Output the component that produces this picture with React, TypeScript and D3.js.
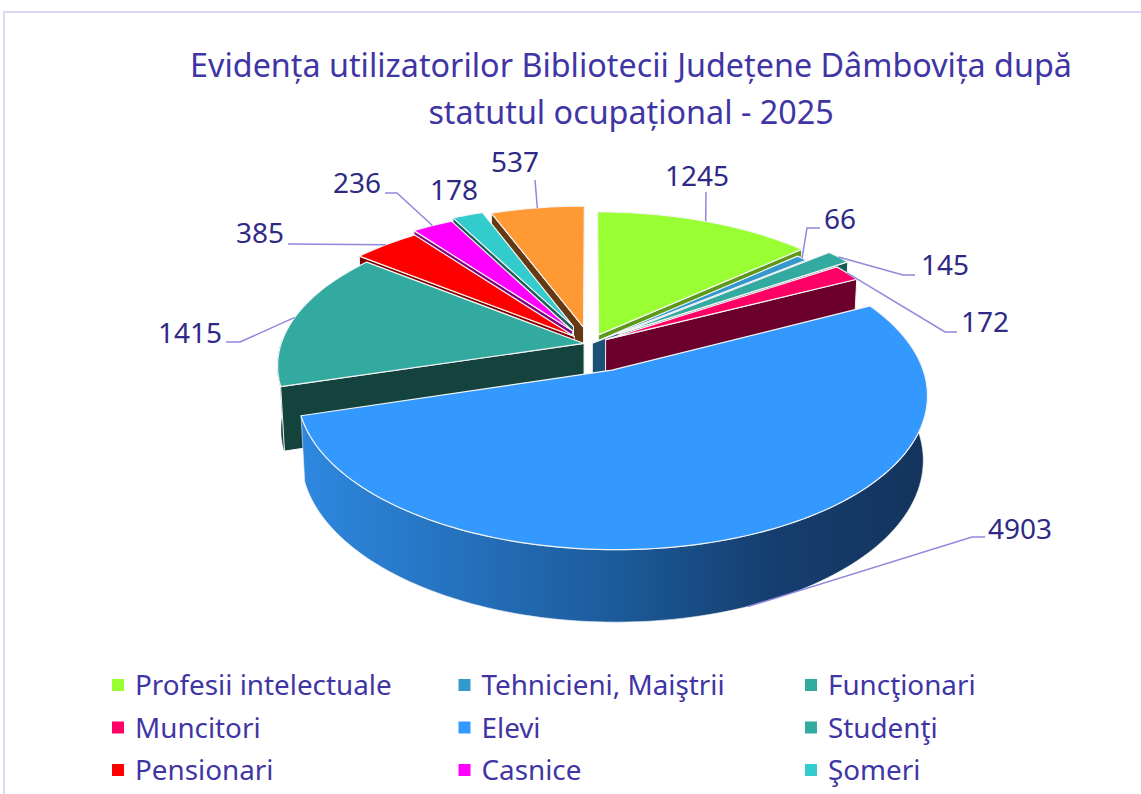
import React from "react";
import * as d3 from "d3";

const titleLines = ["Evidența utilizatorilor Bibliotecii Județene Dâmbovița după", "statutul ocupațional - 2025"];
const legendNames = ["Profesii intelectuale", "Tehnicieni, Maiştrii", "Funcţionari", "Muncitori", "Elevi", "Studenţi", "Pensionari", "Casnice", "Şomeri"];
const values = [1245, 66, 145, 172, 4903, 1415, 385, 236, 178, 537];
const topColors = ["#99ff33", "#3399cc", "#33aaa0", "#ff0066", "#3399ff", "#33aaa0", "#ff0000", "#ff00ff", "#33cccc", "#ff9933"];
const wallColors = ["#5c9918", "#1a5276", "#165a55", "#6b002c", "#1c5f9f", "#14433e", "#800000", "#800080", "#1a5f5c", "#653a12"];
const explode = [0.07, 0.01, 0.12, 0.06, 0.19, 0.02, 0.075, 0.11, 0.135, 0.12];
const paintOrder = [9, 8, 7, 6, 0, 1, 2, 3, 5, 4];

// layout: label centre and leader path from the slice's mid-arc anchor
const labelPos: [number, number][] = [[697, 176], [840, 219], [945, 265], [985, 322], [1020, 529], [190, 333], [260, 233], [357, 183], [454, 190], [515, 162]];
const leaderElbows: [number, number][][] = [
  [[706, 192]],
  [[807, 228], [820, 228]],
  [[903, 275], [915, 275]],
  [[945, 332], [957, 332]],
  [[972, 537], [985, 537]],
  [[240, 342], [226, 342]],
  [[288, 244]],
  [[397, 193], [385, 193]],
  [],
  [[535, 180]],
];

const cx = 590, cy = 344, R = 303, Ry = 144, K = 0.15, M = 0.012, D = 63;
const project = (u: number, v: number, z: number): [number, number] => {
  const den = 1 + K * v + M * z;
  return [cx + (R * u) / den, cy + (-Ry * v + D * z) / den];
};

const pieGen = d3.pie<number>().sort(null).value((d) => d);
const arcs = pieGen(values);
const line = d3.line();

export default function App() {
  const slices = arcs.map((a, i) => {
    const mid = (a.startAngle + a.endAngle) / 2;
    const ou = Math.sin(mid) * explode[i], ov = Math.cos(mid) * explode[i];
    const n = Math.max(4, Math.ceil(((a.endAngle - a.startAngle) * 180) / Math.PI / 1.5));
    const angs = d3.range(n + 1).map((j) => a.startAngle + ((a.endAngle - a.startAngle) * j) / n);
    const P = (t: number, r: number, z: number) => project(ou + r * Math.sin(t), ov + r * Math.cos(t), z);
    const top = [P(0, 0, 0), ...angs.map((t) => P(t, 1, 0))];
    // only the radial wall that faces the viewer is drawn
    const faceAngle = i === 4 ? null : mid < Math.PI ? a.endAngle : a.startAngle;
    const wall = faceAngle === null ? null : [P(0, 0, 0), P(faceAngle, 1, 0), P(faceAngle, 1, 1), P(0, 0, 1)];
    const visible = angs.filter((t) => Math.cos(t) < 0.05);
    const outer = visible.length > 1 ? [...visible.map((t) => P(t, 1, 0)), ...visible.slice().reverse().map((t) => P(t, 1, 1))] : null;
    const anchor = P(mid, 1, i === 4 ? 1 : 0);
    return { i, top, wall, outer, anchor };
  });

  return (
    <svg width={1141} height={794} style={{ position: "absolute", left: 0, top: 0, background: "#fff" }} fontFamily="'Noto Sans', sans-serif">
      <defs>
        <linearGradient id="eleviWall" gradientUnits="userSpaceOnUse" x1={300} x2={920} y1={0} y2={0}>
          <stop offset="0" stopColor="#2e88e0" />
          <stop offset="0.5" stopColor="#1c5c9c" />
          <stop offset="0.75" stopColor="#153f70" />
          <stop offset="1" stopColor="#14345e" />
        </linearGradient>
      </defs>
      <path d="M4,794V12H1141" fill="none" stroke="#d0ccf0" strokeWidth={1.5} />
      {titleLines.map((t, i) => (
        <text key={t} x={631} y={77 + i * 47} textAnchor="middle" fontSize={32.3} fill="#3f35a5">{t}</text>
      ))}
      {paintOrder.map((idx) => {
        const s = slices[idx];
        const fill = idx === 4 ? "url(#eleviWall)" : wallColors[idx];
        const edge = "#f4f4f4";
        return (
          <g key={idx} strokeLinejoin="round">
            {s.outer && <path d={line(s.outer) + "Z"} fill={fill} stroke={idx === 4 ? edge : fill} strokeWidth={0.6} />}
            {s.wall && <path d={line(s.wall) + "Z"} fill={wallColors[idx]} stroke={edge} strokeWidth={1} />}
            <path d={line(s.top) + "Z"} fill={topColors[idx]} stroke={edge} strokeWidth={1.2} />
          </g>
        );
      })}
      {slices.map((s) =>
        leaderElbows[s.i].length ? (
          <path key={s.i} d={line([s.anchor, ...leaderElbows[s.i]]) as string} fill="none" stroke="#8f88dc" strokeWidth={1.5} />
        ) : null
      )}
      {values.map((v, i) => (
        <text key={i} x={labelPos[i][0]} y={labelPos[i][1] + 10} textAnchor="middle" fontSize={28} fill="#2e2a86">{v}</text>
      ))}
      {legendNames.map((n, i) => {
        const col = i % 3, row = Math.floor(i / 3);
        const x = 135 + col * 346.5, y = 686 + row * 42.5;
        return (
          <g key={n}>
            <rect x={x - 23} y={y - 7} width={12} height={12} fill={topColors[i]} />
            <text x={x} y={y + 9} fontSize={27.8} fill="#3f35a5">{n}</text>
          </g>
        );
      })}
    </svg>
  );
}
